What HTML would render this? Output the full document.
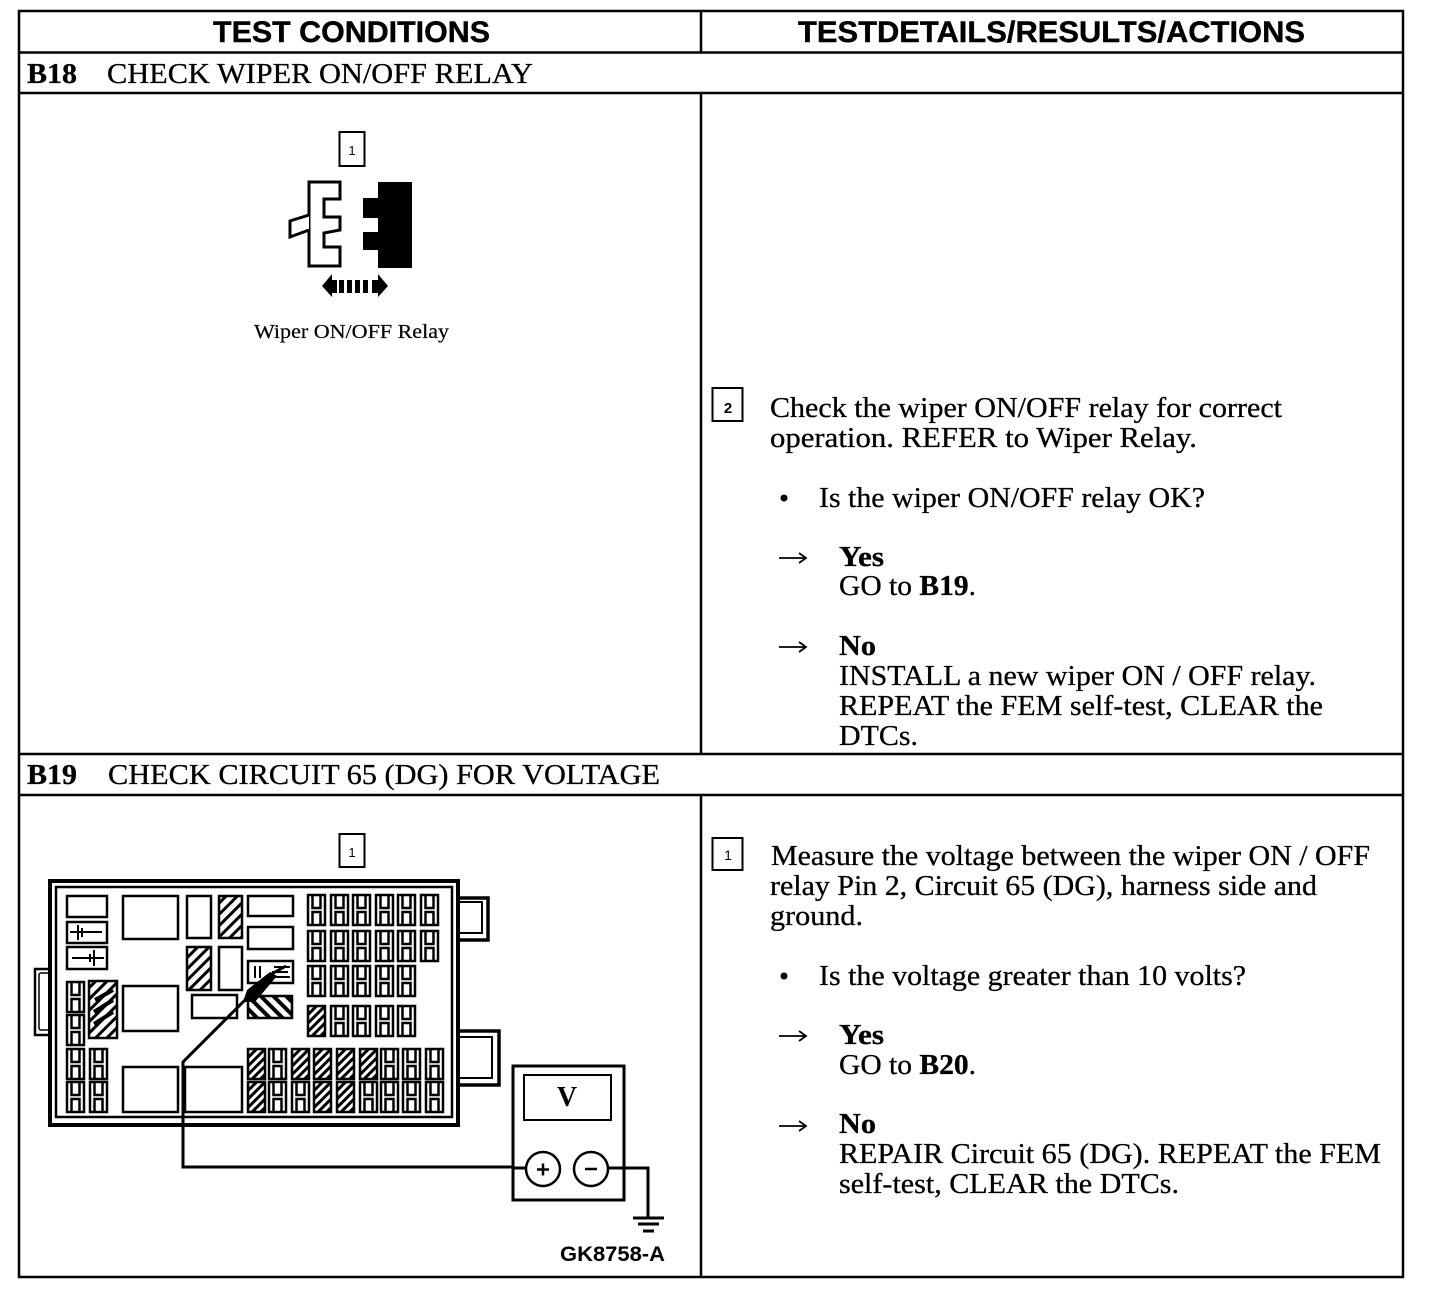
<!DOCTYPE html>
<html><head><meta charset="utf-8"><style>
html,body{margin:0;padding:0;background:#fff}
svg{display:block}
.s{font-family:"Liberation Serif",serif;font-size:29px;fill:#000;stroke:#000;stroke-width:.3px}
.h{font-family:"Liberation Sans",sans-serif;font-size:30px;font-weight:bold;fill:#000;stroke:#000;stroke-width:.4px}
.b{font-weight:bold}
</style></head><body>
<svg xmlns="http://www.w3.org/2000/svg" width="1440" height="1296" viewBox="0 0 1440 1296">
<defs>
<pattern id="p" width="8" height="8" patternUnits="userSpaceOnUse" patternTransform="rotate(45)"><rect width="8" height="8" fill="#fff"/><rect width="3" height="8" fill="#000"/></pattern>
<pattern id="p2" width="6" height="6" patternUnits="userSpaceOnUse" patternTransform="rotate(45)"><rect width="6" height="6" fill="#fff"/><rect width="3" height="6" fill="#000"/></pattern>
<pattern id="q" width="9" height="9" patternUnits="userSpaceOnUse" patternTransform="rotate(-45)"><rect width="9" height="9" fill="#fff"/><rect width="4" height="9" fill="#000"/></pattern>
<g id="f"><rect x="1" y="1" width="17" height="30" fill="#fff" stroke="#000" stroke-width="2.500"/><path d="M5.500 2V14H13.500V2M5.500 30V18H13.500V30" fill="none" stroke="#000" stroke-width="2.500"/></g>
<g id="x"><rect x="1" y="1" width="17" height="30" fill="url(#p2)" stroke="#000" stroke-width="2.500"/></g>
</defs>
<rect width="1440" height="1296" fill="#fff"/>
<g fill="none" stroke="#000" stroke-width="2.500">
<rect x="19" y="11" width="1384" height="1266"/>
<path d="M19 52.500H1403M19 93H1403M19 754H1403M19 795H1403M701 11V52M701 93V754M701 795V1277"/>
</g>
<text class="h" x="213" y="42" textLength="277" lengthAdjust="spacingAndGlyphs">TEST CONDITIONS</text>
<text class="h" x="798" y="42" textLength="507" lengthAdjust="spacingAndGlyphs">TESTDETAILS/RESULTS/ACTIONS</text>
<text class="s b" x="27" y="83" textLength="50" lengthAdjust="spacingAndGlyphs">B18</text>
<text class="s" x="107" y="83" textLength="426" lengthAdjust="spacingAndGlyphs">CHECK WIPER ON/OFF RELAY</text>
<text class="s b" x="27" y="784" textLength="50" lengthAdjust="spacingAndGlyphs">B19</text>
<text class="s" x="108" y="784" textLength="552" lengthAdjust="spacingAndGlyphs">CHECK CIRCUIT 65 (DG) FOR VOLTAGE</text>

<!-- connector -->
<rect x="339.500" y="132" width="25" height="34" fill="none" stroke="#000" stroke-width="2"/>
<text x="352" y="155" text-anchor="middle" font-family="Liberation Sans,sans-serif" font-size="13">1</text>
<path d="M309 182H340V199H324V217H340V230L324 233V247H340V266H309Z" fill="#fff" stroke="#000" stroke-width="3"/>
<path d="M309 215L290 221V237L309 230" fill="#fff" stroke="#000" stroke-width="3"/>
<path d="M378 182H412V268H378V250H363V232H378V218H363V198H378Z" fill="#000"/>
<path d="M322 286L332 274V297ZM378 274L388 286L378 297Z" fill="#000"/>
<path d="M331 280h6v13h-6zM339 280h5v13h-5zM347 280h5v13h-5zM355 280h5v13h-5zM363 280h5v13h-5zM372 280h6v13h-6z" fill="#000"/>
<text class="s" x="254" y="338" style="font-size:20px;stroke-width:.2px" textLength="195" lengthAdjust="spacingAndGlyphs">Wiper ON/OFF Relay</text>

<!-- B18 right -->
<rect x="712.500" y="388" width="30" height="33" fill="none" stroke="#000" stroke-width="2"/>
<text x="728" y="413" text-anchor="middle" font-family="Liberation Sans,sans-serif" font-weight="bold" font-size="15">2</text>
<text class="s" x="770" y="417" textLength="512" lengthAdjust="spacingAndGlyphs">Check the wiper ON/OFF relay for correct</text>
<text class="s" x="770" y="447" textLength="427" lengthAdjust="spacingAndGlyphs">operation. REFER to Wiper Relay.</text>
<circle cx="784" cy="498" r="3.500"/>
<text class="s" x="819" y="507" textLength="386" lengthAdjust="spacingAndGlyphs">Is the wiper ON/OFF relay OK?</text>
<path d="M779 558H805M799 553L806 558L799 563" fill="none" stroke="#000" stroke-width="1.800"/>
<text class="s b" x="839" y="566" textLength="45" lengthAdjust="spacingAndGlyphs">Yes</text>
<text class="s" x="839" y="595" textLength="137" lengthAdjust="spacingAndGlyphs">GO to <tspan class="b">B19</tspan>.</text>
<path d="M779 647H805M799 642L806 647L799 652" fill="none" stroke="#000" stroke-width="1.800"/>
<text class="s b" x="839" y="655" textLength="37" lengthAdjust="spacingAndGlyphs">No</text>
<text class="s" x="839" y="685" textLength="477" lengthAdjust="spacingAndGlyphs">INSTALL a new wiper ON / OFF relay.</text>
<text class="s" x="839" y="715" textLength="484" lengthAdjust="spacingAndGlyphs">REPEAT the FEM self-test, CLEAR the</text>
<text class="s" x="839" y="745" textLength="79" lengthAdjust="spacingAndGlyphs">DTCs.</text>

<!-- B19 right -->
<rect x="712.500" y="838" width="30" height="32" fill="none" stroke="#000" stroke-width="2"/>
<text x="728" y="860" text-anchor="middle" font-family="Liberation Sans,sans-serif" font-size="14">1</text>
<text class="s" x="771" y="865" textLength="599" lengthAdjust="spacingAndGlyphs">Measure the voltage between the wiper ON / OFF</text>
<text class="s" x="770" y="895" textLength="547" lengthAdjust="spacingAndGlyphs">relay Pin 2, Circuit 65 (DG), harness side and</text>
<text class="s" x="770" y="925" textLength="93" lengthAdjust="spacingAndGlyphs">ground.</text>
<circle cx="784" cy="976" r="3.500"/>
<text class="s" x="819" y="985" textLength="427" lengthAdjust="spacingAndGlyphs">Is the voltage greater than 10 volts?</text>
<path d="M779 1036H805M799 1031L806 1036L799 1041" fill="none" stroke="#000" stroke-width="1.800"/>
<text class="s b" x="839" y="1044" textLength="45" lengthAdjust="spacingAndGlyphs">Yes</text>
<text class="s" x="839" y="1074" textLength="137" lengthAdjust="spacingAndGlyphs">GO to <tspan class="b">B20</tspan>.</text>
<path d="M779 1126H805M799 1121L806 1126L799 1131" fill="none" stroke="#000" stroke-width="1.800"/>
<text class="s b" x="839" y="1133" textLength="37" lengthAdjust="spacingAndGlyphs">No</text>
<text class="s" x="839" y="1163" textLength="542" lengthAdjust="spacingAndGlyphs">REPAIR Circuit 65 (DG). REPEAT the FEM</text>
<text class="s" x="839" y="1193" textLength="340" lengthAdjust="spacingAndGlyphs">self-test, CLEAR the DTCs.</text>

<!-- B19 callout -->
<rect x="339.500" y="834" width="25" height="33" fill="none" stroke="#000" stroke-width="2"/>
<text x="352" y="857" text-anchor="middle" font-family="Liberation Sans,sans-serif" font-size="13">1</text>

<!-- fuse box tabs -->
<g fill="#fff" stroke="#000">
<rect x="35" y="969" width="16" height="66" stroke-width="2.500"/>
<rect x="39" y="973" width="12" height="57" rx="2" stroke-width="1.500"/>
<rect x="456" y="898" width="32" height="42" stroke-width="3.500"/>
<rect x="456" y="902" width="26" height="31" stroke-width="2"/>
<rect x="456" y="1031" width="43" height="54" stroke-width="3.500"/>
<rect x="456" y="1037" width="36" height="41" stroke-width="2"/>
<rect x="50" y="881" width="408" height="244" stroke-width="4"/>
<rect x="56" y="887" width="396" height="230" stroke-width="2.500"/>
</g>
<!-- plain rects -->
<g fill="#fff" stroke="#000" stroke-width="2.500">
<rect x="67" y="896" width="40" height="21"/>
<rect x="67" y="922" width="40" height="21"/>
<rect x="67" y="947" width="40" height="22"/>
<rect x="123" y="896" width="55" height="43"/>
<rect x="187" y="896" width="24" height="42"/>
<rect x="219" y="896" width="23" height="42" fill="url(#p)"/>
<rect x="187" y="947" width="24" height="43" fill="url(#p)"/>
<rect x="219" y="947" width="23" height="43"/>
<rect x="192" y="995" width="45" height="23"/>
<rect x="123" y="986" width="55" height="45"/>
<rect x="123" y="1067" width="55" height="45"/>
<rect x="185" y="1067" width="57" height="45"/>
<rect x="248" y="896" width="45" height="20"/>
<rect x="248" y="927" width="45" height="22"/>
<rect x="248" y="961" width="45" height="22"/>
<rect x="248" y="996" width="44" height="22" fill="url(#q)"/>
<rect x="89" y="981" width="28" height="57" fill="url(#p)"/>
</g>
<path d="M70 932H102M78 925V940M82 928V937M72 958H104M94 950V966M90 954V962" fill="none" stroke="#000" stroke-width="2"/>
<path d="M255 966V978M260 966V978M274 967H290M272 972H288M274 977H290" fill="none" stroke="#000" stroke-width="2"/>
<path d="M95 1000L113 990M94 1012L113 1000M94 1024L113 1012" fill="none" stroke="#000" stroke-width="4"/>
<!-- fuses -->
<use href="#f" x="307" y="894"/><use href="#f" x="330" y="894"/><use href="#f" x="352" y="894"/><use href="#f" x="375" y="894"/><use href="#f" x="397" y="894"/><use href="#f" x="420" y="894"/>
<use href="#f" x="307" y="930"/><use href="#f" x="330" y="930"/><use href="#f" x="352" y="930"/><use href="#f" x="375" y="930"/><use href="#f" x="397" y="930"/><use href="#f" x="420" y="930"/>
<use href="#f" x="307" y="965"/><use href="#f" x="330" y="965"/><use href="#f" x="352" y="965"/><use href="#f" x="375" y="965"/><use href="#f" x="397" y="965"/>
<use href="#x" x="307" y="1005"/><use href="#f" x="330" y="1005"/><use href="#f" x="352" y="1005"/><use href="#f" x="375" y="1005"/><use href="#f" x="397" y="1005"/>
<use href="#x" x="247" y="1048"/><use href="#f" x="268" y="1048"/><use href="#x" x="291" y="1048"/><use href="#x" x="313" y="1048"/><use href="#x" x="336" y="1048"/><use href="#x" x="359" y="1048"/><use href="#f" x="380" y="1048"/><use href="#f" x="402" y="1048"/><use href="#f" x="425" y="1048"/>
<use href="#x" x="247" y="1081"/><use href="#f" x="268" y="1081"/><use href="#f" x="291" y="1081"/><use href="#x" x="313" y="1081"/><use href="#x" x="336" y="1081"/><use href="#f" x="359" y="1081"/><use href="#f" x="380" y="1081"/><use href="#f" x="402" y="1081"/><use href="#f" x="425" y="1081"/>
<use href="#f" x="66" y="981"/><use href="#f" x="66" y="1014"/><use href="#f" x="66" y="1048"/><use href="#f" x="66" y="1081"/>
<use href="#f" x="89" y="1048"/><use href="#f" x="89" y="1081"/>
<!-- probe -->
<path d="M527 1167H183V1062L247 998" fill="none" stroke="#000" stroke-width="3"/>
<path d="M243 1002L247 990L270 972L277 976L255 1002Z" fill="#000"/>
<path d="M268 976L286 966" fill="none" stroke="#000" stroke-width="3"/>
<!-- meter -->
<rect x="513" y="1066" width="111" height="134" fill="#fff" stroke="#000" stroke-width="3"/>
<rect x="524" y="1075" width="87" height="45" fill="none" stroke="#000" stroke-width="2"/>
<text x="567" y="1106" text-anchor="middle" font-family="Liberation Serif,serif" font-weight="bold" font-size="28">V</text>
<path d="M513 1168H527" stroke="#000" stroke-width="3"/>
<circle cx="543" cy="1169" r="17" fill="#fff" stroke="#000" stroke-width="2.500"/>
<circle cx="591" cy="1169" r="17" fill="#fff" stroke="#000" stroke-width="2.500"/>
<path d="M537 1169.500H549M543 1163.500V1175.500M585 1169H597" stroke="#000" stroke-width="2.500"/>
<path d="M608 1168H648V1217" fill="none" stroke="#000" stroke-width="3"/>
<path d="M633 1218H664M638 1224H659M643 1231H654" stroke="#000" stroke-width="3"/>
<text x="560" y="1261" font-family="Liberation Sans,sans-serif" font-weight="bold" font-size="21" textLength="105" lengthAdjust="spacingAndGlyphs">GK8758-A</text>
</svg>
</body></html>
